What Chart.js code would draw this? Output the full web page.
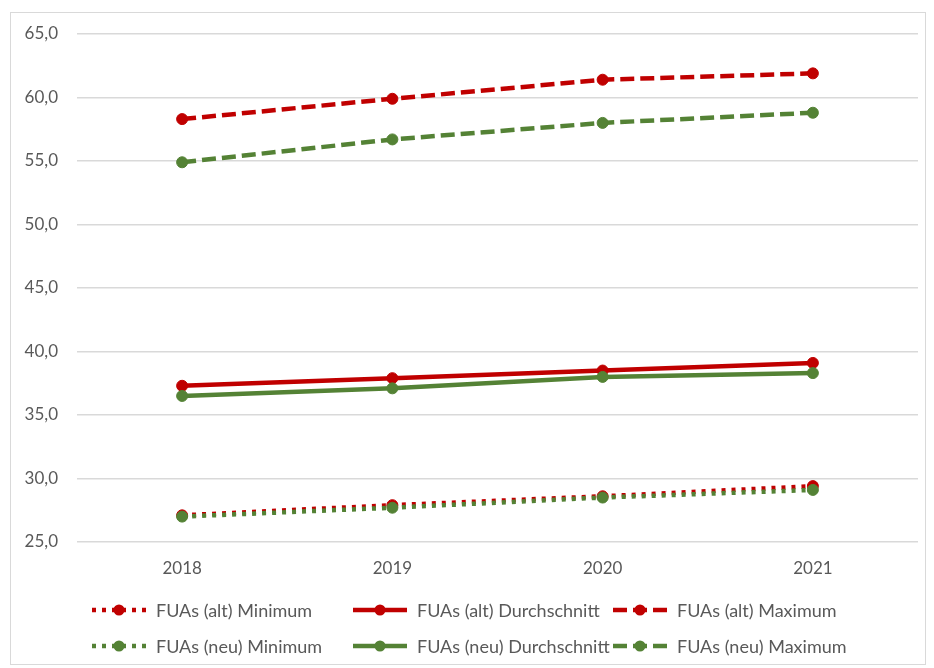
<!DOCTYPE html>
<html>
<head>
<meta charset="utf-8">
<script src="https://cdn.jsdelivr.net/npm/chart.js@4/dist/chart.umd.min.js"></script>
<style>
  html, body { margin: 0; padding: 0; background: #fff; }
  #wrap { position: relative; width: 934px; height: 668px; }
  #frame { position: absolute; left: 10px; top: 12px; width: 916px; height: 653px; border: 1px solid #d9d9d9; box-sizing: border-box; }
  #c { position: absolute; left: 0; top: 0; }
</style>
</head>
<body>
<div id="wrap">
  <div id="frame"></div>
  <canvas id="c" width="934" height="668"></canvas>
</div>
<script>
// Jahre (Kategorien)
const years = ['2018', '2019', '2020', '2021'];

// FUAs (alt)
const altMinimum       = [27.1, 27.9, 28.6, 29.4];
const altDurchschnitt  = [37.3, 37.9, 38.5, 39.1];
const altMaximum       = [58.3, 59.9, 61.4, 61.9];

// FUAs (neu)
const neuMinimum       = [27.0, 27.7, 28.5, 29.1];
const neuDurchschnitt  = [36.5, 37.1, 38.0, 38.3];
const neuMaximum       = [54.9, 56.7, 58.0, 58.8];

// Y-Achse
const yMin = 25, yMax = 65, yStep = 5;

const RED = '#c00000';
const GREEN = '#548235';
const TEXT = '#595959';
const FONT = 'Lato, "Open Sans", sans-serif';

const DOT = [4, 6];
const DASH = [14, 6];

function series(label, data, color, dash, order) {
  return {
    label, data,
    borderColor: color,
    backgroundColor: color,
    borderWidth: 4.5,
    borderDash: dash,
    borderCapStyle: 'butt',
    pointRadius: 5.5,
    pointBorderWidth: 1,
    pointBackgroundColor: color,
    pointBorderColor: color,
    tension: 0,
    fill: false,
    order
  };
}

const datasets = [
  series('FUAs (alt) Minimum',       altMinimum,      RED,   DOT,  1),
  series('FUAs (alt) Durchschnitt',  altDurchschnitt, RED,   [],   1),
  series('FUAs (alt) Maximum',       altMaximum,      RED,   DASH, 1),
  series('FUAs (neu) Minimum',       neuMinimum,      GREEN, DOT,  0),
  series('FUAs (neu) Durchschnitt',  neuDurchschnitt, GREEN, [],   0),
  series('FUAs (neu) Maximum',       neuMaximum,      GREEN, DASH, 0)
];

// Legende in zwei Zeilen mit drei Spalten unter dem Diagramm
const gridLegend = {
  id: 'gridLegend',
  afterDraw(chart) {
    const ctx = chart.ctx;
    const colX = [92, 353, 613];
    const rowY = [610, 646];
    const sampleW = 54;
    ctx.save();
    chart.data.datasets.forEach((ds, i) => {
      const x0 = colX[i % 3];
      const y = rowY[Math.floor(i / 3)];
      ctx.strokeStyle = ds.borderColor;
      ctx.lineWidth = ds.borderWidth;
      ctx.lineCap = 'butt';
      ctx.setLineDash(ds.borderDash);
      ctx.beginPath();
      ctx.moveTo(x0, y);
      ctx.lineTo(x0 + sampleW, y);
      ctx.stroke();
      ctx.setLineDash([]);
      ctx.fillStyle = ds.borderColor;
      ctx.beginPath();
      ctx.arc(x0 + sampleW / 2, y, 5.5, 0, Math.PI * 2);
      ctx.fill();
      ctx.fillStyle = TEXT;
      ctx.font = '18px ' + FONT;
      ctx.textBaseline = 'middle';
      ctx.textAlign = 'left';
      ctx.fillText(ds.label, x0 + sampleW + 10, y + 1);
    });
    ctx.restore();
  }
};

new Chart(document.getElementById('c'), {
  type: 'line',
  data: { labels: years, datasets },
  plugins: [gridLegend],
  options: {
    responsive: false,
    animation: false,
    layout: { padding: { top: 34, right: 16, bottom: 86, left: 10 } },
    plugins: {
      legend: { display: false },
      tooltip: { enabled: false }
    },
    scales: {
      x: {
        offset: true,
        grid: { display: false, drawTicks: false },
        border: { display: false },
        ticks: { color: TEXT, font: { family: FONT, size: 17 }, padding: 16 },
        afterFit(s) { s.height = 40; }
      },
      y: {
        min: yMin, max: yMax,
        ticks: {
          stepSize: yStep,
          color: TEXT,
          font: { family: FONT, size: 17 },
          padding: 19,
          callback: v => v.toFixed(1).replace('.', ',')
        },
        grid: { color: '#d9d9d9', lineWidth: 1.5, drawTicks: false },
        border: { display: false },
        afterFit(s) { s.width = 67; }
      }
    }
  }
});
</script>
</body>
</html>
